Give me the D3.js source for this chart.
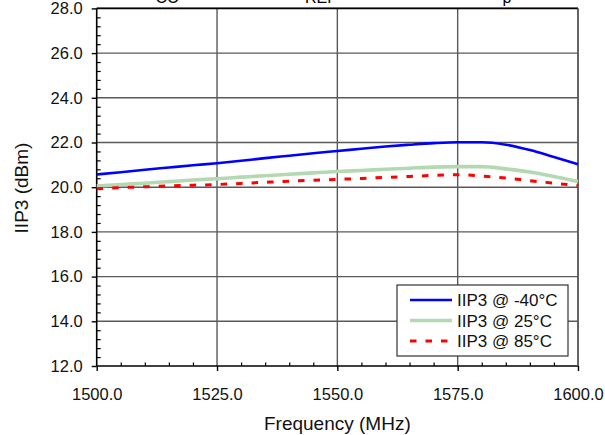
<!DOCTYPE html>
<html>
<head>
<meta charset="utf-8">
<script src="https://cdn.jsdelivr.net/npm/d3@7"></script>
<style>
  html, body { margin: 0; padding: 0; background: #fff; }
  svg { display: block; font-family: "Liberation Sans", Arial, sans-serif; }
</style>
</head>
<body>
<svg id="chart" width="605" height="435"></svg>
<script>
// ---- data ----
const freqs = [1500,1505,1510,1515,1520,1525,1530,1535,1540,1545,1550,1555,1560,1565,1570,1575,1580,1585,1590,1595,1600];
const iip3_m40 = [20.57,20.67,20.78,20.88,20.98,21.07,21.18,21.30,21.41,21.52,21.62,21.72,21.82,21.90,21.97,22.01,22.01,21.90,21.66,21.35,21.03];
const iip3_25  = [20.05,20.12,20.18,20.25,20.32,20.38,20.45,20.51,20.58,20.64,20.70,20.75,20.80,20.85,20.90,20.92,20.92,20.82,20.68,20.48,20.25];
const iip3_85  = [19.93,19.98,20.02,20.06,20.09,20.12,20.17,20.22,20.27,20.31,20.35,20.39,20.44,20.48,20.53,20.56,20.50,20.41,20.29,20.18,20.07];
const seriesNames = ["IIP3 @ -40°C", "IIP3 @ 25°C", "IIP3 @ 85°C"];
const xTicks = [1500, 1525, 1550, 1575, 1600];
const yTicks = [12, 14, 16, 18, 20, 22, 24, 26, 28];
const xLabel = "Frequency (MHz)";
const yLabel = "IIP3 (dBm)";

const svg = d3.select("#chart");
const L = 96.7, R = 578, T = 8.4, B = 366;
const x = d3.scaleLinear().domain([1500, 1600]).range([L, R]);
const y = d3.scaleLinear().domain([12, 28]).range([B, T]);
const fmt = d3.format(".1f");

// title fragments (the reference title is cut off at the top edge)
const tf = svg.append("g").attr("font-size", 16).attr("fill", "#000");
tf.append("text").attr("x", 167).attr("y", 3).attr("text-anchor", "middle").text("CC");
tf.append("text").attr("x", 321).attr("y", 3).attr("text-anchor", "middle").text("REF");
tf.append("text").attr("x", 507).attr("y", 3).attr("text-anchor", "middle").text("p");

// grid
const grid = svg.append("g").attr("stroke", "#5a5a5a").attr("stroke-width", 1.4);
xTicks.slice(1).forEach(v => grid.append("line").attr("x1", x(v)).attr("x2", x(v)).attr("y1", T).attr("y2", B));
yTicks.slice(1).forEach(v => grid.append("line").attr("x1", L).attr("x2", R).attr("y1", y(v)).attr("y2", y(v)));

// axes with inward minor ticks
const xMinor = d3.range(1500, 1600.01, 5).filter(v => v % 25 !== 0);
const yMinor = d3.range(12, 28.001, 0.4).filter(v => Math.abs(v/2 - Math.round(v/2)) > 0.01);

const gx = svg.append("g").attr("transform", `translate(0,${B})`)
  .call(d3.axisBottom(x).tickValues(xTicks).tickFormat(fmt).tickSize(5).tickPadding(17));
gx.select(".domain").remove();
gx.selectAll("line").attr("stroke", "#000").attr("stroke-width", 1.4);
gx.selectAll("text").attr("font-size", 16.5).attr("fill", "#111").attr("font-family", "Liberation Sans, Arial, sans-serif");
const gxm = svg.append("g").attr("transform", `translate(0,${B})`)
  .call(d3.axisBottom(x).tickValues(xMinor).tickFormat("").tickSize(-3.5));
gxm.select(".domain").remove();
gxm.selectAll("line").attr("stroke", "#000").attr("stroke-width", 1.2);

const gy = svg.append("g").attr("transform", `translate(${L},0)`)
  .call(d3.axisLeft(y).tickValues(yTicks).tickFormat(fmt).tickSize(5).tickPadding(9));
gy.select(".domain").remove();
gy.selectAll("line").attr("stroke", "#000").attr("stroke-width", 1.4);
gy.selectAll("text").attr("font-size", 16.5).attr("fill", "#111").attr("font-family", "Liberation Sans, Arial, sans-serif");
const gym = svg.append("g").attr("transform", `translate(${L},0)`)
  .call(d3.axisLeft(y).tickValues(yMinor).tickFormat("").tickSize(-4));
gym.select(".domain").remove();
gym.selectAll("line").attr("stroke", "#000").attr("stroke-width", 1.2);

// frame
svg.append("line").attr("x1", L).attr("x2", L).attr("y1", T).attr("y2", B).attr("stroke", "#000").attr("stroke-width", 1.6);
svg.append("line").attr("x1", L).attr("x2", R).attr("y1", B).attr("y2", B).attr("stroke", "#000").attr("stroke-width", 1.6);
svg.append("line").attr("x1", L).attr("x2", R).attr("y1", T).attr("y2", T).attr("stroke", "#000").attr("stroke-width", 1.6);
svg.append("line").attr("x1", R).attr("x2", R).attr("y1", T).attr("y2", B).attr("stroke", "#5a5a5a").attr("stroke-width", 1.6);

// series
const styles = [
  { color: "#0000ff", width: 2.6, dash: null },
  { color: "#b4d9b2", width: 3.6, dash: null },
  { color: "#ff0000", width: 3.0, dash: "6.5,9" }
];
const data = [iip3_m40, iip3_25, iip3_85];
const line = d3.line().x(d => x(d[0])).y(d => y(d[1])).curve(d3.curveMonotoneX);
[1, 2, 0].forEach(i => {
  svg.append("path")
    .datum(freqs.map((f, j) => [f, data[i][j]]))
    .attr("fill", "none")
    .attr("stroke", styles[i].color)
    .attr("stroke-width", styles[i].width)
    .attr("stroke-dasharray", styles[i].dash)
    .attr("d", line);
});

// axis titles
svg.append("text").attr("x", (L + R) / 2).attr("y", 430).attr("text-anchor", "middle")
  .attr("font-size", 19).attr("fill", "#111").text(xLabel);
svg.append("text").attr("transform", `translate(28,188) rotate(-90)`).attr("text-anchor", "middle")
  .attr("font-size", 19).attr("fill", "#111").text(yLabel);

// legend
const lg = svg.append("g");
lg.append("rect").attr("x", 397).attr("y", 285).attr("width", 171).attr("height", 71)
  .attr("fill", "#fff").attr("stroke", "#333").attr("stroke-width", 1.2);
seriesNames.forEach((name, i) => {
  const yy = 300 + i * 20.5;
  lg.append("line").attr("x1", 410).attr("x2", 452).attr("y1", yy).attr("y2", yy)
    .attr("stroke", styles[i].color).attr("stroke-width", styles[i].width)
    .attr("stroke-dasharray", styles[i].dash);
  lg.append("text").attr("x", 457).attr("y", yy + 6).attr("font-size", 17).attr("fill", "#111").text(name);
});
</script>
</body>
</html>
